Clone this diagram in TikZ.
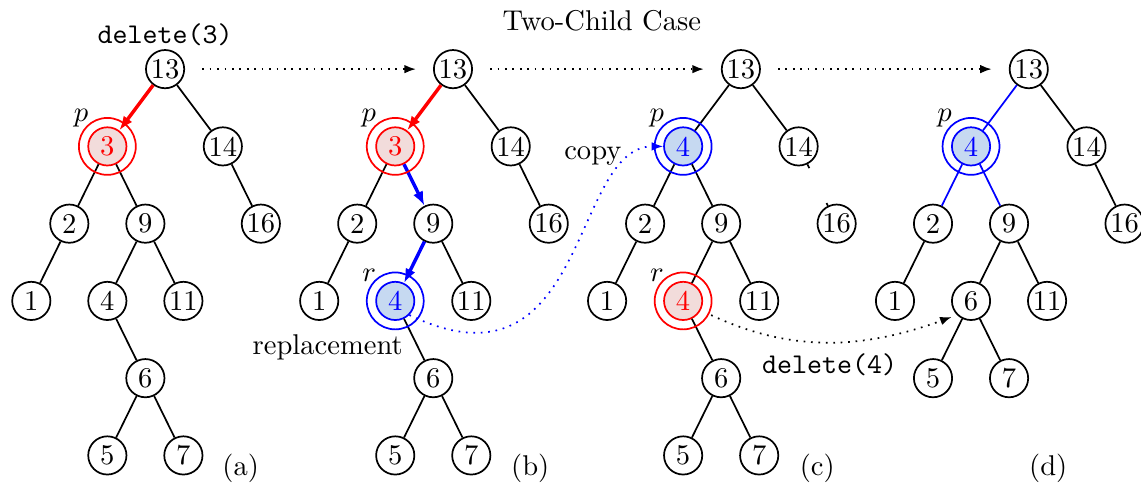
\documentclass[tikz,border=0pt]{standalone}
\usepackage{amsmath}
\usepackage{amsfonts}
\usepackage{amssymb}
\usetikzlibrary{arrows.meta,positioning}

\definecolor{lightred}{HTML}{F2DCDB}
\definecolor{lightblue}{HTML}{C6D9F1}

\begin{document}
\begin{tikzpicture}[
  semithick,
  level distance = 9.5mm,
  level 1/.style = {sibling distance = 14.2mm},
  level 2/.style = {sibling distance = 9.35mm},
  tnode/.style = {draw, circle, minimum size = 4.7mm, inner sep = 0pt},
  every child node/.style = {tnode},
  pred/.style = {draw = red, fill = lightred, text = red},
  pblue/.style = {draw = blue, fill = lightblue, text = blue},
  redarrow/.style = {draw = red, very thick, -{Latex[length = 5pt]}},
  bluearrow/.style = {draw = blue, very thick, -{Latex[length = 5pt]}},
  step arrow/.style = {dotted, -{Latex[length = 4pt]}},
  ]
  \useasboundingbox (-2.03,-5.15) rectangle (12.0,0.85);

  % (a)
  \node[tnode] (a13) at (0,0) {13}
  child { node[pred] (a3) {3}
          child { node (a2) {2}
                  child { node (a1) {1} }
                  child { edge from parent[draw = none] }
                }
          child { node (a9) {9}
                  child { node (a4) {4}
                          child { edge from parent[draw = none] }
                          child { node (a6) {6}
                                  child { node (a5) {5} }
                                  child { node (a7) {7} }
                                }
                        }
                  child { node (a11) {11} }
                }
          edge from parent[draw = none]
        }
  child { node (a14) {14}
          child { edge from parent[draw = none] }
          child { node (a16) {16} }
        };

  % (b)
  \node[tnode] (b13) at (3.54,0) {13}
  child { node[pred] (b3) {3}
          child { node (b2) {2}
                  child { node (b1) {1} }
                  child { edge from parent[draw = none] }
                }
          child { node (b9) {9}
                  child { node[pblue] (b4) {4}
                          child { edge from parent[draw = none] }
                          child { node (b6) {6}
                                  child { node (b5) {5} }
                                  child { node (b7) {7} }
                                }
                          edge from parent[draw = none]
                        }
                  child { node (b11) {11} }
                  edge from parent[draw = none]
                }
          edge from parent[draw = none]
        }
  child { node (b14) {14}
          child { edge from parent[draw = none] }
          child { node (b16) {16} }
        };

  % (c)
  \node[tnode] (c13) at (7.08,0) {13}
  child { node[pblue] (c4p) {4}
          child { node (c2) {2}
                  child { node (c1) {1} }
                  child { edge from parent[draw = none] }
                }
          child { node (c9) {9}
                  child { node[pred] (c4r) {4}
                          child { edge from parent[draw = none] }
                          child { node (c6) {6}
                                  child { node (c5) {5} }
                                  child { node (c7) {7} }
                                }
                        }
                  child { node (c11) {11} }
                }
        }
  child { node (c14) {14}
          child { edge from parent[draw = none] }
          child { node (c16) {16}
                  edge from parent[dash pattern = on 1.5pt off 13.6pt on 3pt]
                }
        };

  % (d)
  \node[tnode] (d13) at (10.62,0) {13}
  child { node[pblue] (d4) {4}
          child { node (d2) {2}
                  child { node (d1) {1} }
                  child { edge from parent[draw = none] }
                  edge from parent[draw = none]
                }
          child { node (d9) {9}
                  child { node (d6) {6}
                          child { node (d5) {5} }
                          child { node (d7) {7} }
                        }
                  child { node (d11) {11} }
                  edge from parent[draw = none]
                }
          edge from parent[draw = none]
        }
  child { node (d14) {14}
          child { edge from parent[draw = none] }
          child { node (d16) {16} }
        };

  % coloured edges
  \draw[redarrow] (a13) -- (a3);
  \draw[redarrow] (b13) -- (b3);
  \draw[bluearrow] (b3) -- (b9);
  \draw[bluearrow] (b9) -- (b4);
  \draw[blue] (d13) -- (d4);
  \draw[blue] (d4) -- (d2);
  \draw[blue] (d4) -- (d9);

  % outer rings
  \foreach \n/\c in {a3/red, b3/red, b4/blue, c4p/blue, c4r/red, d4/blue}
    \draw[\c] (\n) circle (3.5mm);

  % p and r
  \node[above left = -0.6mm and -0.65mm of a3] (pa) {$p$};
  \node[above left = -0.6mm and -0.65mm of b3] (pb) {$p$};
  \node[above left = -0.6mm and -0.65mm of c4p] (pc) {$p$};
  \node[above left = -0.6mm and -0.65mm of d4] (pd) {$p$};
  \node[above left = -0.6mm and -0.65mm of b4] (rb) {$r$};
  \node[above left = -0.6mm and -0.65mm of c4r] (rc) {$r$};

  % steps
  \draw[step arrow, shorten <= 6pt, shorten >= 6pt] (a13) -- (b13);
  \draw[step arrow, shorten <= 6pt, shorten >= 6pt] (b13) -- (c13);
  \draw[step arrow, shorten <= 6pt, shorten >= 6pt] (c13) -- (d13);
  \draw[step arrow, blue] (b4.south east)
    .. controls +(2.21,-1.06) and +(-1.14,0) .. (c4p.west);
  \draw[step arrow, shorten <= 4pt, shorten >= 2pt] (c4r.-28)
    to[out = -25, in = 200] (d6.south west);

  % texts
  \node[above = 0mm of a13, inner sep = 1pt] (del3) {\texttt{delete(3)}};
  \node (title) at (5.37,0.6) {Two-Child Case};
  \node (copy) at (5.26,-1.07) {copy};
  \node (repl) at (2.0,-3.42) {replacement};
  \node (del4) at (8.17,-3.63) {\texttt{delete(4)}};
  \node (capa) at (0.93,-4.91) {(a)};
  \node (capb) at (4.49,-4.91) {(b)};
  \node (capc) at (8.02,-4.91) {(c)};
  \node (capd) at (10.86,-4.91) {(d)};
\end{tikzpicture}
\end{document}
